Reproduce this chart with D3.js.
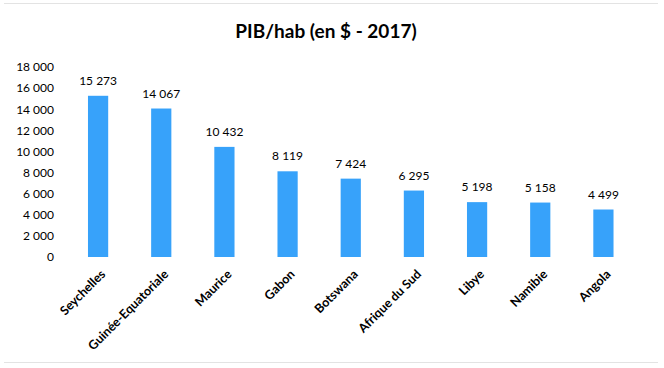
<!DOCTYPE html>
<html><head><meta charset="utf-8">
<script src="https://cdn.jsdelivr.net/npm/d3@7"></script>
<style>body{margin:0;background:#fff}svg{display:block}text{font-family:Lato,"Open Sans",sans-serif}</style>
</head><body><svg id="c" width="664" height="368"></svg>
<script>
const categories = ["Seychelles","Guinée-Equatoriale","Maurice","Gabon","Botswana","Afrique du Sud","Libye","Namibie","Angola"];
const values = [15273,14067,10432,8119,7424,6295,5198,5158,4499];
const yTicks = [0,2000,4000,6000,8000,10000,12000,14000,16000,18000];
const title = "PIB/hab (en $ - 2017)";

const svg = d3.select("#c");
const fmt = v => d3.format(",")(v).replace(/,/g," ");
svg.append("line").attr("x1",4).attr("x2",658).attr("y1",3.5).attr("y2",3.5).attr("stroke","#e3e3e3");
svg.append("line").attr("x1",4).attr("x2",658).attr("y1",362.5).attr("y2",362.5).attr("stroke","#e3e3e3");

const x = d3.scaleBand().domain(categories).range([66.5,635]).paddingInner(0.68).paddingOuter(0.34);
const y = d3.scaleLinear().domain([0,18000]).range([257,67]);

svg.append("text").attr("x",326).attr("y",38).attr("text-anchor","middle")
  .attr("font-size",19).attr("font-weight","bold").attr("fill","#000").text(title);

const ya = svg.append("g").attr("transform","translate(54,0)")
  .call(d3.axisLeft(y).tickValues(yTicks).tickFormat(fmt).tickSize(0).tickPadding(0));
ya.select(".domain").remove();
ya.selectAll("text").attr("font-size",12).attr("fill","#000").attr("font-family","Lato,'Open Sans',sans-serif");

svg.selectAll("rect.bar").data(values).join("rect").attr("class","bar")
  .attr("x",(d,i)=>x(categories[i])).attr("width",x.bandwidth())
  .attr("y",d=>y(d)).attr("height",d=>y(0)-y(d)).attr("fill","#37A2FA");

svg.selectAll("text.val").data(values).join("text").attr("class","val")
  .attr("x",(d,i)=>x(categories[i])+x.bandwidth()/2).attr("y",d=>y(d)-11)
  .attr("text-anchor","middle").attr("font-size",12).attr("fill","#000").text(fmt);

const xa = svg.append("g").attr("transform",`translate(0,${y(0)})`)
  .call(d3.axisBottom(x).tickSize(0).tickPadding(0));
xa.select(".domain").remove();
xa.selectAll("text").attr("font-size",12.5).attr("font-weight","bold").attr("fill","#000").attr("font-family","Lato,'Open Sans',sans-serif")
  .attr("text-anchor","end").attr("dy",0)
  .attr("transform","translate(8,18) rotate(-45)");
</script></body></html>
